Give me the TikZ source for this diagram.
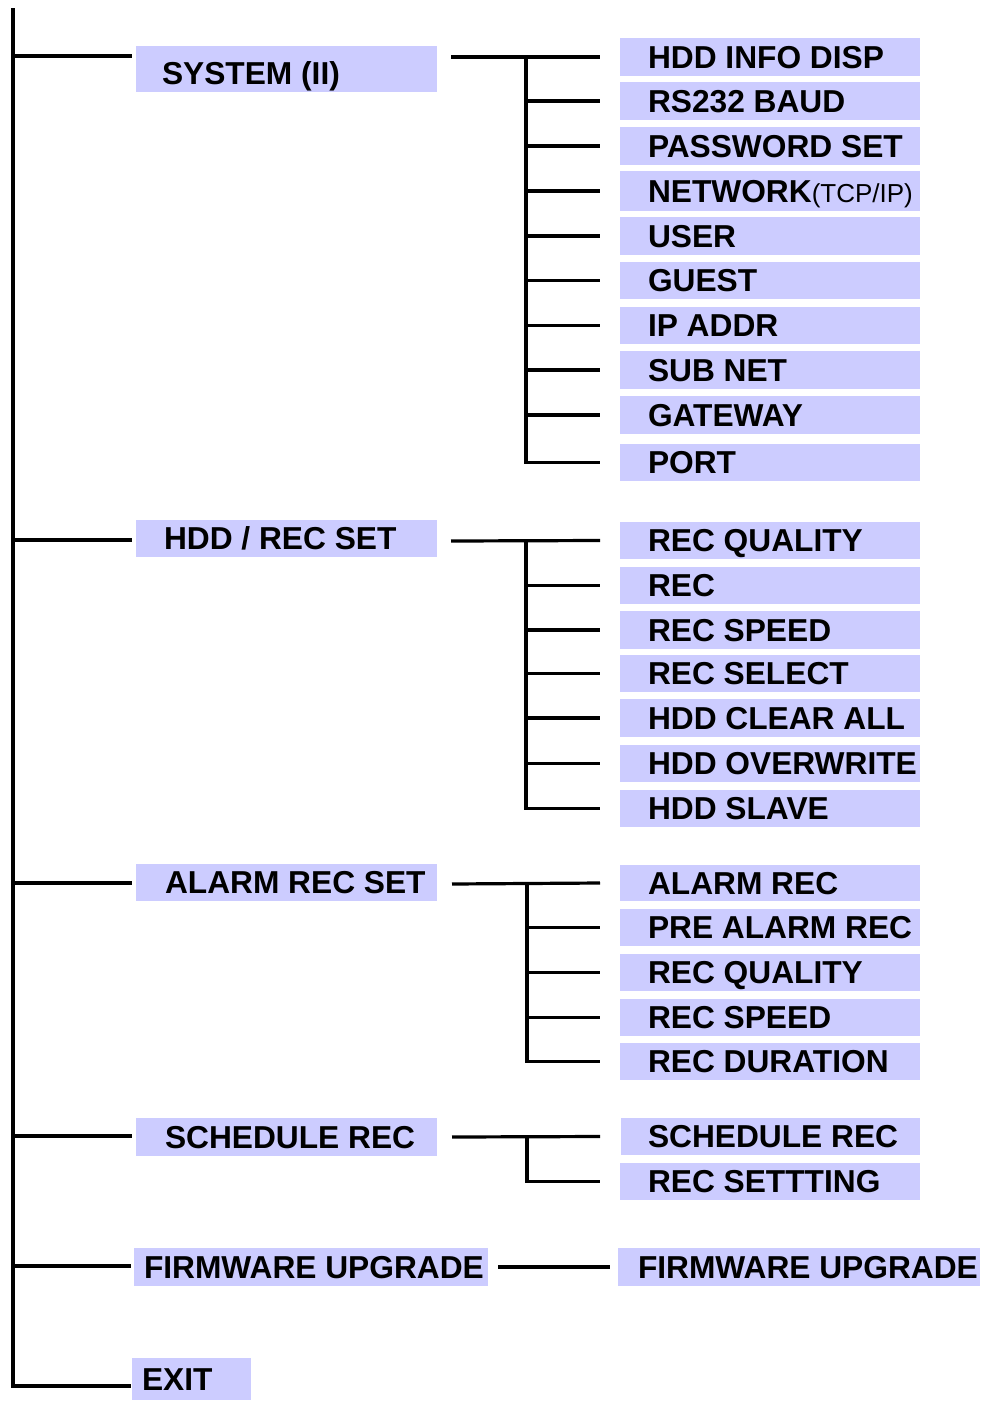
\documentclass[tikz,border=0pt]{standalone}
\usepackage{fontspec}
\setmainfont{Liberation Sans}
\definecolor{boxc}{RGB}{204,204,255}
\tikzset{
  mbox/.style={rectangle, fill=boxc, anchor=north west, inner ysep=0pt, outer sep=0pt,
    text height=22.7pt, text depth=0pt,
    font=\bfseries\fontsize{31.7}{38}\selectfont},
  conn/.style={line width=3.2pt, draw=black}
}
\newcommand\mkbox[8][]{%
  \pgfmathsetmacro\mkw{#5-#3-2*#7}%
  \pgfmathsetmacro\mkh{#6-#4}%
  \node[mbox, inner xsep=#7pt, minimum height=\mkh pt, #1] (#2) at (#3,#4) {\makebox[\mkw pt][l]{#8}};}
\begin{document}
\begin{tikzpicture}[x=1pt,y=-1pt]
\useasboundingbox (0,0) rectangle (989,1401);
% top-level boxes
\mkbox[text height=30.7pt]{sys}{136}{46}{437}{92}{26}{SYSTEM (II)}
\mkbox{hdd}{136}{520}{437}{557}{28}{HDD / REC SET}
\mkbox{al}{136}{864}{437}{901}{29}{ALARM REC SET}
\mkbox{sc}{136}{1118}{437}{1156}{29}{SCHEDULE REC}
\mkbox{fw}{134}{1248}{488}{1286}{10}{FIRMWARE UPGRADE}
\mkbox{ex}{132}{1358}{251}{1400}{10}{EXIT}
% system sub
\mkbox{s1}{620}{38}{920}{76}{28}{HDD INFO DISP}
\mkbox{s2}{620}{82}{920}{120}{28}{RS232 BAUD}
\mkbox{s3}{620}{127}{920}{165}{28}{PASSWORD SET}
\mkbox{s4}{620}{171}{920}{211}{28}{NETWORK{\mdseries\fontsize{26}{30}\selectfont(TCP/IP)}}
\mkbox{s5}{620}{217}{920}{255}{28}{USER}
\mkbox{s6}{620}{262}{920}{299}{28}{GUEST}
\mkbox{s7}{620}{307}{920}{344}{28}{IP ADDR}
\mkbox{s8}{620}{351}{920}{389}{28}{SUB NET}
\mkbox{s9}{620}{396}{920}{434}{28}{GATEWAY}
\mkbox{s10}{620}{444}{920}{481}{28}{PORT}
% hdd sub
\mkbox{h1}{620}{522}{920}{559}{28}{REC QUALITY}
\mkbox{h2}{620}{567}{920}{604}{28}{REC}
\mkbox{h3}{620}{611}{920}{649}{28}{REC SPEED}
\mkbox{h4}{620}{655}{920}{692}{28}{REC SELECT}
\mkbox{h5}{620}{699}{920}{737}{28}{HDD CLEAR ALL}
\mkbox{h6}{620}{745}{920}{782}{28}{HDD OVERWRITE}
\mkbox{h7}{620}{790}{920}{827}{28}{HDD SLAVE}
% alarm sub
\mkbox{a1}{620}{865}{920}{901}{28}{ALARM REC}
\mkbox{a2}{620}{909}{920}{946}{28}{PRE ALARM REC}
\mkbox{a3}{620}{954}{920}{991}{28}{REC QUALITY}
\mkbox{a4}{620}{999}{920}{1036}{28}{REC SPEED}
\mkbox{a5}{620}{1043}{920}{1080}{28}{REC DURATION}
% schedule sub
\mkbox{c1}{621}{1118}{920}{1155}{27}{SCHEDULE REC}
\mkbox{c2}{620}{1163}{920}{1200}{28}{REC SETTTING}
% firmware sub
\mkbox{f2}{618}{1248}{980}{1286}{20}{FIRMWARE UPGRADE}

% trunk
\coordinate (top) at (13,8);
\coordinate (sysL) at (132,56);
\coordinate (hddL) at (132,540);
\coordinate (alL) at (132,883);
\coordinate (scL) at (132,1136);
\coordinate (fwL) at (131,1266);
\coordinate (exL) at (131,1386);
\draw[conn] (top) |- (exL);
\foreach \c in {sysL,hddL,alL,scL,fwL} \draw[conn] (top |- \c) -- (\c);

% system branch
\coordinate (sysR) at (451,57);
\coordinate (sysJ) at (526,57);
\draw[conn] (sysR) -- ([xshift=-20pt]s1.west);
\foreach \k in {2,...,10} \draw[conn] (sysJ) |- ([xshift=-20pt]s\k.west);
% hdd branch
\coordinate (hddR) at (451,541);
\coordinate (hddJ) at (526,541);
\draw[conn] (hddR) -- ([xshift=-20pt]h1.west);
\foreach \k in {2,...,7} \draw[conn] (hddJ) |- ([xshift=-20pt]h\k.west);
% alarm branch
\coordinate (alR) at (452,884);
\coordinate (alJ) at (527,884);
\draw[conn] (alR) -- ([xshift=-20pt]a1.west);
\foreach \k in {2,...,5} \draw[conn] (alJ) |- ([xshift=-20pt]a\k.west);
% schedule branch
\coordinate (scR) at (452,1137);
\coordinate (scJ) at (527,1137);
\draw[conn] (scR) -- ([xshift=-21pt]c1.west);
\draw[conn] (scJ) |- ([xshift=-20pt]c2.west);
% firmware branch
\coordinate (fwR) at (498,1267);
\draw[conn] (fwR) -- ([xshift=-8pt]f2.west);
\end{tikzpicture}
\end{document}
